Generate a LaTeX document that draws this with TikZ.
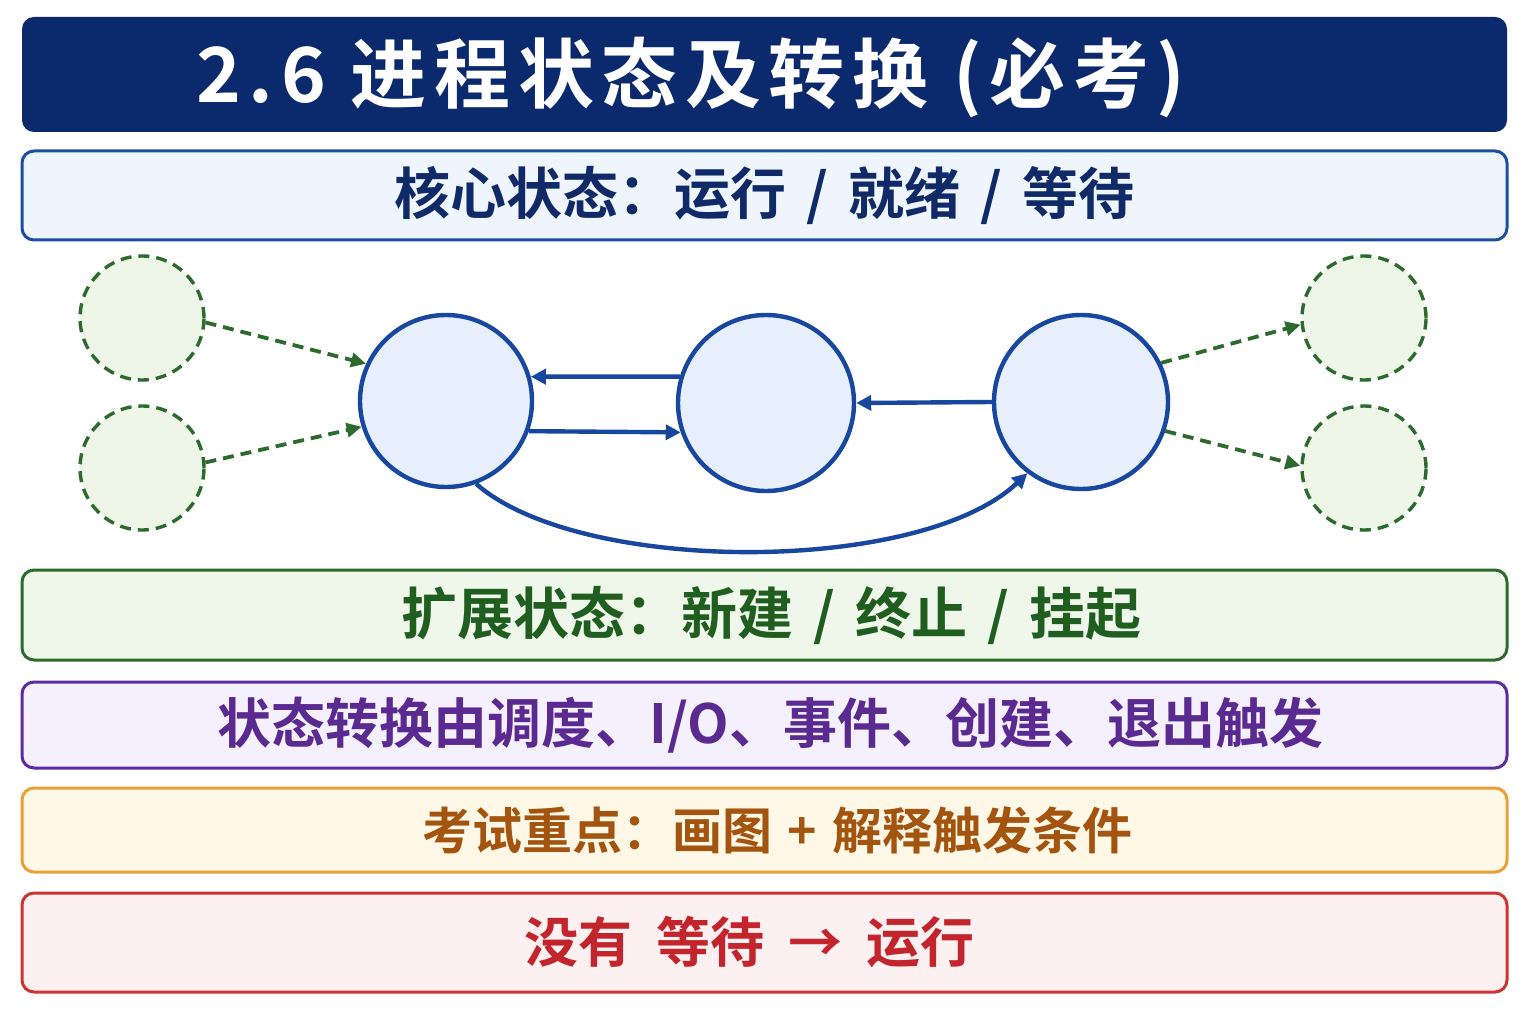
\documentclass[tikz,border=0pt]{standalone}
\usepackage{fontspec}
\usetikzlibrary{arrows.meta}
\newfontfamily\cjk{Noto Sans CJK SC Bold}
\newfontfamily\cjktitle{Noto Sans CJK SC Bold}[LetterSpace=10]
\newcommand\slashsep{\hspace{.36em}/\hspace{.36em}}
\definecolor{TitleNavy}{HTML}{0B2A6E}
\definecolor{CoreLine}{HTML}{1F4E9E}
\definecolor{CoreFill}{HTML}{EEF5FD}
\definecolor{CoreText}{HTML}{102A68}
\definecolor{StateBlue}{HTML}{1847A0}
\definecolor{StateFill}{HTML}{E6EFFB}
\definecolor{GhostGreen}{HTML}{2D6B2D}
\definecolor{GhostFill}{HTML}{EEF6E8}
\definecolor{ExtLine}{HTML}{2C6A2A}
\definecolor{ExtFill}{HTML}{EEF7EA}
\definecolor{ExtText}{HTML}{1F5E1F}
\definecolor{TransLine}{HTML}{5B2C9E}
\definecolor{TransFill}{HTML}{F5F0FD}
\definecolor{TransText}{HTML}{5A2A90}
\definecolor{ExamLine}{HTML}{E9A137}
\definecolor{ExamFill}{HTML}{FFF8E6}
\definecolor{ExamText}{HTML}{A3540E}
\definecolor{NoteLine}{HTML}{CC3333}
\definecolor{NoteFill}{HTML}{FDF0F1}
\definecolor{NoteText}{HTML}{C2252B}

\begin{document}
\begin{tikzpicture}[x=1pt, y=-1pt,
    bar/.style={draw, line width=3pt, rounded corners=12pt, minimum width=1485pt, inner sep=0pt},
    state/.style={circle, draw=StateBlue, fill=StateFill, line width=4.4pt, minimum size=172pt, inner sep=0pt},
    ghost/.style={circle, draw=GhostGreen, fill=GhostFill, line width=3.4pt, dash pattern=on 11pt off 7pt, minimum size=124pt, inner sep=0pt},
    flow/.style={draw=StateBlue, line width=4.4pt, -{Triangle[length=15pt,width=15pt]}},
    side/.style={draw=GhostGreen, line width=3.8pt, dash pattern=on 11pt off 7pt, -{Triangle[length=15pt,width=14pt]}}]
        \fill[white] (0,0) rectangle (1536,1024);
        \useasboundingbox (0,0) rectangle (1536,1024);
        \node[bar, draw=none, fill=TitleNavy, minimum height=115pt] (title) at (764.5,74.5) {};
        \node[anchor=west, text=white, font=\cjktitle\fontsize{76}{84}\selectfont] (titletext) at (193,77) {2.6 进程状态及转换 (必考)};
        \node[bar, draw=CoreLine, fill=CoreFill, text=CoreText, minimum height=89pt, font=\cjk\fontsize{56}{60}\selectfont] (core) at (764.5,195.5) {核心状态：运行\slashsep 就绪\slashsep 等待};
        \node[ghost] (newA) at (142,318) {};
        \node[ghost] (newB) at (142,468) {};
        \node[state] (run) at (446,401) {};
        \node[state, minimum size=176pt] (ready) at (766,403) {};
        \node[state, minimum size=174pt] (wait) at (1081,402) {};
        \node[ghost] (outA) at (1364,318) {};
        \node[ghost] (outB) at (1364,468) {};
        \draw[side] (newA.-4) -- (run.155);
        \draw[side] (newB.5) -- (run.197);
        \draw[side] (wait.26) -- (outA.186);
        \draw[side] (wait.-19) -- (outB.178);
        \draw[flow] (ready.163) -- (run.16);
        \draw[flow] (run.-20) -- (ready.-161.5);
        \draw[flow] (wait.180) -- (ready.0);
        \draw[flow] (run.-70) .. controls (580,575) and (920,575) .. (wait.-127);
        \node[bar, draw=ExtLine, fill=ExtFill, text=ExtText, minimum height=90pt, font=\cjk\fontsize{56}{60}\selectfont] (ext) at (764.5,615) {\hspace{14pt}扩展状态：新建\slashsep 终止\slashsep 挂起};
        \node[bar, draw=TransLine, fill=TransFill, text=TransText, minimum height=86pt, font=\cjk\fontsize{54}{60}\selectfont] (trans) at (764.5,725) {\hspace{12pt}状态转换由调度、I/O、事件、创建、退出触发};
        \node[bar, draw=ExamLine, fill=ExamFill, text=ExamText, minimum height=84pt, font=\cjk\fontsize{50}{56}\selectfont] (exam) at (764.5,830) {\hspace{26pt}考试重点：画图\hspace{.3em}+\hspace{.3em}解释触发条件};
        \node[bar, draw=NoteLine, fill=NoteFill, text=NoteText, minimum height=99pt, font=\cjk\fontsize{54}{60}\selectfont] (note) at (764.5,942.5) {\hspace{-30pt}没有\hspace{.45em}等待\hspace{.45em}→\hspace{.45em}运行};
    \end{tikzpicture}
\end{document}
